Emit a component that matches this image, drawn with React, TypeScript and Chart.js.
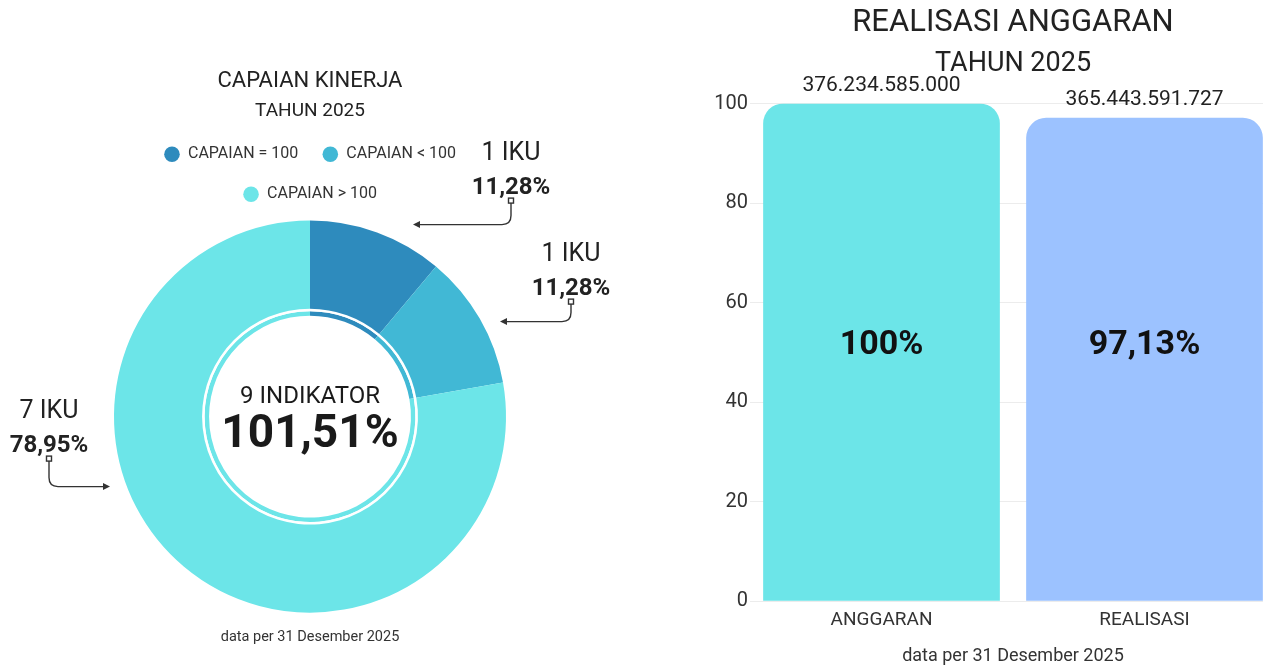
import React, { useEffect, useRef } from 'react';
import { Chart, registerables } from 'chart.js';

Chart.register(...registerables);

const FONT = 'Roboto, "Noto Sans", sans-serif';

// ---- Capaian Kinerja (doughnut) ----
const kinerjaLabels = ['CAPAIAN = 100', 'CAPAIAN < 100', 'CAPAIAN > 100'];
const kinerjaCounts = [1, 1, 7];
const kinerjaShares = [11.28, 11.28, 78.95];
const kinerjaColors = ['#2E8BBD', '#41B8D5', '#6CE5E8'];
const indicatorTotal = 9;
const kinerjaScore = 101.51;

// ---- Realisasi Anggaran (bar) ----
const anggaranLabels = ['ANGGARAN', 'REALISASI'];
const anggaranPercent = [100, 97.13];
const anggaranAmount = [376234585000, 365443591727];
const anggaranColors = ['#6CE5E8', '#9CC2FF'];
const yTickMin = 0;
const yTickMax = 100;
const yTickStep = 20;

const footerText = 'data per 31 Desember 2025';

const fmtPct = (v: number) =>
  (Number.isInteger(v) ? String(v) : v.toFixed(2).replace('.', ',')) + '%';
const fmtRp = (v: number) =>
  String(Math.round(v)).replace(/\B(?=(\d{3})+(?!\d))/g, '.');

const calloutPlugin = {
  id: 'kinerjaCallouts',
  afterDraw(chart: any) {
    const ctx = chart.ctx as CanvasRenderingContext2D;
    const arc = chart.getDatasetMeta(0).data[0] as any;
    const cx = arc.x;
    const cy = arc.y;
    // callout geometry, relative to the doughnut centre
    const geom = [
      { dx: 201, name: -257, pct: -223, sq: -216, h: -192, tip: 103 },
      { dx: 261, name: -156, pct: -122, sq: -115, h: -95, tip: 190 },
      { dx: -261, name: 1, pct: 35, sq: 42, h: 70, tip: -200 },
    ];
    ctx.save();
    ctx.textAlign = 'center';
    ctx.textBaseline = 'alphabetic';
    ctx.fillStyle = '#1a1a1a';
    ctx.font = `400 24px ${FONT}`;
    ctx.fillText(`${indicatorTotal} INDIKATOR`, cx, cy - 14);
    ctx.font = `700 46px ${FONT}`;
    ctx.fillText(fmtPct(kinerjaScore), cx, cy + 30);

    kinerjaCounts.forEach((n, i) => {
      const g = geom[i];
      const x = cx + g.dx;
      ctx.fillStyle = '#222';
      ctx.font = `400 25px ${FONT}`;
      ctx.fillText(`${n} IKU`, x, cy + g.name);
      ctx.font = `700 24px ${FONT}`;
      ctx.fillText(fmtPct(kinerjaShares[i]), x, cy + g.pct);

      ctx.strokeStyle = '#333';
      ctx.fillStyle = '#333';
      ctx.lineWidth = 1.4;
      const sy = cy + g.sq;
      ctx.strokeRect(x - 2.5, sy - 2.5, 5, 5);
      const hy = cy + g.h;
      const tipX = cx + g.tip;
      const dir = tipX < x ? -1 : 1;
      const r = 9;
      ctx.beginPath();
      ctx.moveTo(x, sy + 2.5);
      ctx.lineTo(x, hy - r);
      ctx.quadraticCurveTo(x, hy, x + dir * r, hy);
      ctx.lineTo(tipX - dir * 6, hy);
      ctx.stroke();
      ctx.beginPath();
      ctx.moveTo(tipX, hy);
      ctx.lineTo(tipX - dir * 7, hy - 3.5);
      ctx.lineTo(tipX - dir * 7, hy + 3.5);
      ctx.closePath();
      ctx.fill();
    });

    ctx.fillStyle = '#333';
    ctx.font = `400 14.5px ${FONT}`;
    ctx.fillText(footerText, cx, chart.height - 25);
    ctx.restore();
  },
};

const barLabelPlugin = {
  id: 'anggaranLabels',
  afterDatasetsDraw(chart: any) {
    const ctx = chart.ctx as CanvasRenderingContext2D;
    const meta = chart.getDatasetMeta(0);
    const yScale = chart.scales.y;
    ctx.save();
    ctx.textAlign = 'center';
    ctx.textBaseline = 'alphabetic';
    meta.data.forEach((bar: any, i: number) => {
      ctx.fillStyle = '#222';
      ctx.font = `400 21px ${FONT}`;
      ctx.fillText(fmtRp(anggaranAmount[i]), bar.x, bar.y - 13);
      ctx.fillStyle = '#111';
      ctx.font = `700 34px ${FONT}`;
      ctx.fillText(fmtPct(anggaranPercent[i]), bar.x, yScale.getPixelForValue(52) + 12);
    });
    const area = chart.chartArea;
    ctx.fillStyle = '#333';
    ctx.font = `400 18px ${FONT}`;
    ctx.fillText(footerText, (area.left + area.right) / 2, chart.height - 5);
    ctx.restore();
  },
};

export default function App() {
  const donutRef = useRef<HTMLCanvasElement>(null);
  const barRef = useRef<HTMLCanvasElement>(null);

  useEffect(() => {
    Chart.defaults.font.family = FONT;
    Chart.defaults.color = '#333';

    const donut = new Chart(donutRef.current as HTMLCanvasElement, {
      type: 'doughnut',
      data: {
        labels: kinerjaLabels,
        datasets: [
          { data: kinerjaCounts, backgroundColor: kinerjaColors, borderWidth: 0, weight: 88 } as any,
          { data: kinerjaCounts, backgroundColor: '#ffffff', borderWidth: 0, weight: 2.5 } as any,
          { data: kinerjaCounts, backgroundColor: kinerjaColors, borderWidth: 0, weight: 4.5 } as any,
        ],
      },
      options: {
        responsive: false,
        animation: false,
        cutout: '51.5%',
        events: [],
        layout: { padding: { top: 68, left: 114, right: 134, bottom: 45 } },
        plugins: {
          title: {
            display: true,
            text: 'CAPAIAN KINERJA',
            color: '#222',
            font: { family: FONT, size: 22, weight: 'normal' },
            padding: { top: 0, bottom: 5 },
          },
          subtitle: {
            display: true,
            text: 'TAHUN 2025',
            color: '#222',
            font: { family: FONT, size: 19, weight: 'normal' },
            padding: { top: 0, bottom: 0 },
          },
          legend: {
            position: 'top',
            labels: {
              usePointStyle: true,
              pointStyle: 'circle',
              boxWidth: 16,
              boxHeight: 11,
              padding: 24,
              color: '#333',
              font: { family: FONT, size: 16 },
            },
          },
          tooltip: { enabled: false },
        },
      } as any,
      plugins: [calloutPlugin],
    });

    const bar = new Chart(barRef.current as HTMLCanvasElement, {
      type: 'bar',
      data: {
        labels: anggaranLabels,
        datasets: [
          {
            data: anggaranPercent,
            backgroundColor: anggaranColors,
            borderWidth: 0,
            borderRadius: { topLeft: 20, topRight: 20, bottomLeft: 0, bottomRight: 0 },
            borderSkipped: 'start',
            barPercentage: 0.9,
            categoryPercentage: 1,
          } as any,
        ],
      },
      options: {
        responsive: false,
        animation: false,
        events: [],
        layout: { padding: { top: 4.4, left: 0, right: 0, bottom: 26 } },
        scales: {
          x: {
            grid: { display: false, drawTicks: false },
            border: { display: false },
            ticks: { color: '#333', font: { family: FONT, size: 19 }, padding: 8 },
          },
          y: {
            min: yTickMin,
            max: yTickMax,
            ticks: { stepSize: yTickStep, color: '#333', font: { family: FONT, size: 20 }, padding: 2 },
            grid: { color: '#ececec', drawTicks: false },
            border: { display: false },
            afterFit: (s: any) => {
              s.width = 60;
            },
          },
        },
        plugins: {
          legend: { display: false },
          tooltip: { enabled: false },
          title: {
            display: true,
            fullSize: false,
            text: 'REALISASI ANGGARAN',
            color: '#222',
            font: { family: FONT, size: 31, weight: 'normal' },
            padding: { top: 0, bottom: 6.2 },
          },
          subtitle: {
            display: true,
            fullSize: false,
            text: 'TAHUN 2025',
            color: '#222',
            font: { family: FONT, size: 27, weight: 'normal' },
            padding: { top: 0, bottom: 23.3 },
          },
        },
      } as any,
      plugins: [barLabelPlugin],
    });

    return () => {
      donut.destroy();
      bar.destroy();
    };
  }, []);

  return (
    <div
      style={{
        position: 'fixed',
        left: 0,
        top: 0,
        width: 1263,
        height: 666,
        overflow: 'hidden',
        background: '#ffffff',
      }}
    >
      <canvas ref={donutRef} width={640} height={666} style={{ position: 'absolute', left: 0, top: 0 }} />
      <canvas ref={barRef} width={586} height={666} style={{ position: 'absolute', left: 690, top: 0 }} />
    </div>
  );
}
